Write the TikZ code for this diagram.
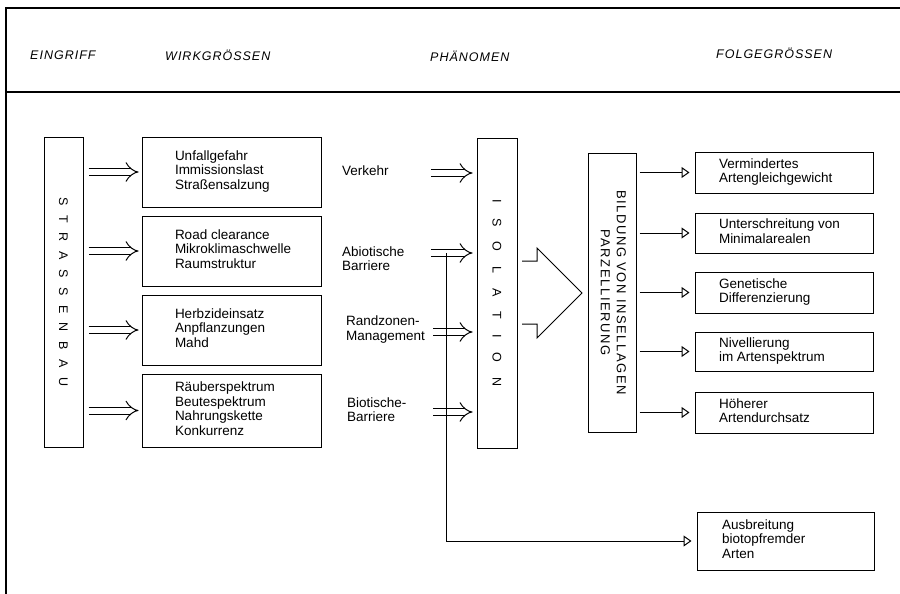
\documentclass[tikz,border=0pt]{standalone}
\usepackage{fontspec}
\setmainfont{Liberation Sans}
\newfontfamily\hdrfont[LetterSpace=8]{Liberation Sans}
\newfontfamily\rotfont[LetterSpace=12]{Liberation Sans}
\usepackage{graphicx}
\usetikzlibrary{arrows.meta}
\newcommand\btext[3]{\begin{tabular}{@{\hspace{#1}}p{\dimexpr #2-#1\relax}@{}}#3\end{tabular}}
\newcommand\sbsp{\hskip9.6pt\relax}
\newcommand\isp{\hskip15pt\relax}
\begin{document}
\begin{tikzpicture}[x=1pt,y=-1pt,
  hdr/.style={inner sep=0pt, anchor=west, font=\hdrfont\itshape\fontsize{12.5}{14}\selectfont},
  box/.style={draw, line width=1pt, inner sep=0pt, font=\fontsize{13.5}{14.5}\selectfont},
  lbl/.style={inner sep=0pt, anchor=west, align=left, font=\fontsize{13.5}{14.5}\selectfont},
  dbl/.style={double, double distance=6pt, line width=1pt, -{Implies[scale=1.3]}},
  sarrow/.style={line width=1pt, -{Triangle[open, length=8pt, width=11pt, line width=1pt]}}
]
\useasboundingbox (0,0) rectangle (900,594);
% frame
\draw[line width=1.1pt] (900,8) -- (6,8) -- (6,594);
\draw[line width=1.5pt] (6,92) -- (900,92);
% headers
\node[hdr] (h1) at (30,55) {EINGRIFF};
\node[hdr] (h2) at (165,55) {WIRKGRÖSSEN};
\node[hdr] (h3) at (430,56) {PHÄNOMEN};
\node[hdr] (h4) at (716,53) {FOLGEGRÖSSEN};
% left column
\node[box, minimum width=39pt, minimum height=310pt] (sb) at (63.5,292)
  {\rotatebox{-90}{\fontsize{12.5}{13}\selectfont S\sbsp T\sbsp R\sbsp A\sbsp S\sbsp S\sbsp E\sbsp N\sbsp B\sbsp A\sbsp U}};
% Wirkgroessen
\node[box, minimum width=179pt, minimum height=70pt] (w1) at (231.5,172) {\btext{33pt}{179pt}{Unfallgefahr\\Immissionslast\\Straßensalzung}};
\node[box, minimum width=179pt, minimum height=70pt] (w2) at (231.5,251) {\btext{33pt}{179pt}{Road clearance\\Mikroklimaschwelle\\Raumstruktur}};
\node[box, minimum width=179pt, minimum height=70pt] (w3) at (231.5,330) {\btext{33pt}{179pt}{Herbzideinsatz\\Anpflanzungen\\Mahd}};
\node[box, minimum width=179pt, minimum height=73pt] (w4) at (231.5,410.5) {\btext{33pt}{179pt}{Räuberspektrum\\Beutespektrum\\Nahrungskette\\Konkurrenz}};
\foreach \w in {w1,w2,w3,w4}
  \draw[dbl, shorten <=5pt, shorten >=3pt] (sb.east |- \w) -- (\w.west);
% labels
\node[lbl] (l1) at (342,171) {Verkehr};
\node[lbl] (l2) at (342,258.5) {Abiotische\\Barriere};
\node[lbl] (l3) at (346,329.5) {Randzonen-\\Management};
\node[lbl] (l4) at (347,409.5) {Biotische-\\Barriere};
% isolation
\node[box, minimum width=40pt, minimum height=310pt] (iso) at (497,293)
  {\rotatebox{-90}{\fontsize{12.5}{13}\selectfont I\isp S\isp O\isp L\isp A\isp T\isp I\isp O\isp N}};
\coordinate (m1) at (431,173);
\coordinate (m2) at (431,253);
\coordinate (m3) at (433,332);
\coordinate (m4) at (433,412);
\foreach \m in {m1,m2,m3,m4}
  \draw[dbl, shorten >=4pt] (\m) -- (\m -| iso.west);
% big arrow
\draw[line width=1pt] (522,261) -- (537,261) -- (537,248) -- (582,293) -- (537,338) -- (537,324) -- (522,324);
% Bildung
\node[box, minimum width=48pt, minimum height=279pt] (bi) at (612,292.5)
  {\rotatebox{-90}{\rotfont\fontsize{13}{16}\selectfont\begin{tabular}{@{}c@{}}BILDUNG VON INSELLAGEN\\PARZELLIERUNG\end{tabular}}};
% Folgegroessen
\node[box, minimum width=178pt, minimum height=41pt] (r1) at (784,172.5) {\btext{24pt}{178pt}{Vermindertes\\Artengleichgewicht}};
\node[box, minimum width=178pt, minimum height=40pt] (r2) at (784,233) {\btext{24pt}{178pt}{Unterschreitung von\\Minimalarealen}};
\node[box, minimum width=178pt, minimum height=41pt] (r3) at (784,292.5) {\btext{24pt}{178pt}{Genetische\\Differenzierung}};
\node[box, minimum width=178pt, minimum height=39pt] (r4) at (784,351.5) {\btext{24pt}{178pt}{Nivellierung\\im Artenspektrum}};
\node[box, minimum width=178pt, minimum height=41pt] (r5) at (784,412.5) {\btext{24pt}{178pt}{Höherer\\Artendurchsatz}};
\node[box, minimum width=177pt, minimum height=58pt] (r6) at (785.5,541) {\btext{25pt}{177pt}{Ausbreitung\\biotopfremder\\Arten}};
\foreach \r in {r1,r2,r3,r4,r5}
  \draw[sarrow, shorten <=3pt, shorten >=5pt] (bi.east |- \r) -- (\r.west);
\coordinate (vt) at (446,253);
\draw[sarrow, shorten >=5pt] (vt) |- (r6.west);
\end{tikzpicture}
\end{document}
